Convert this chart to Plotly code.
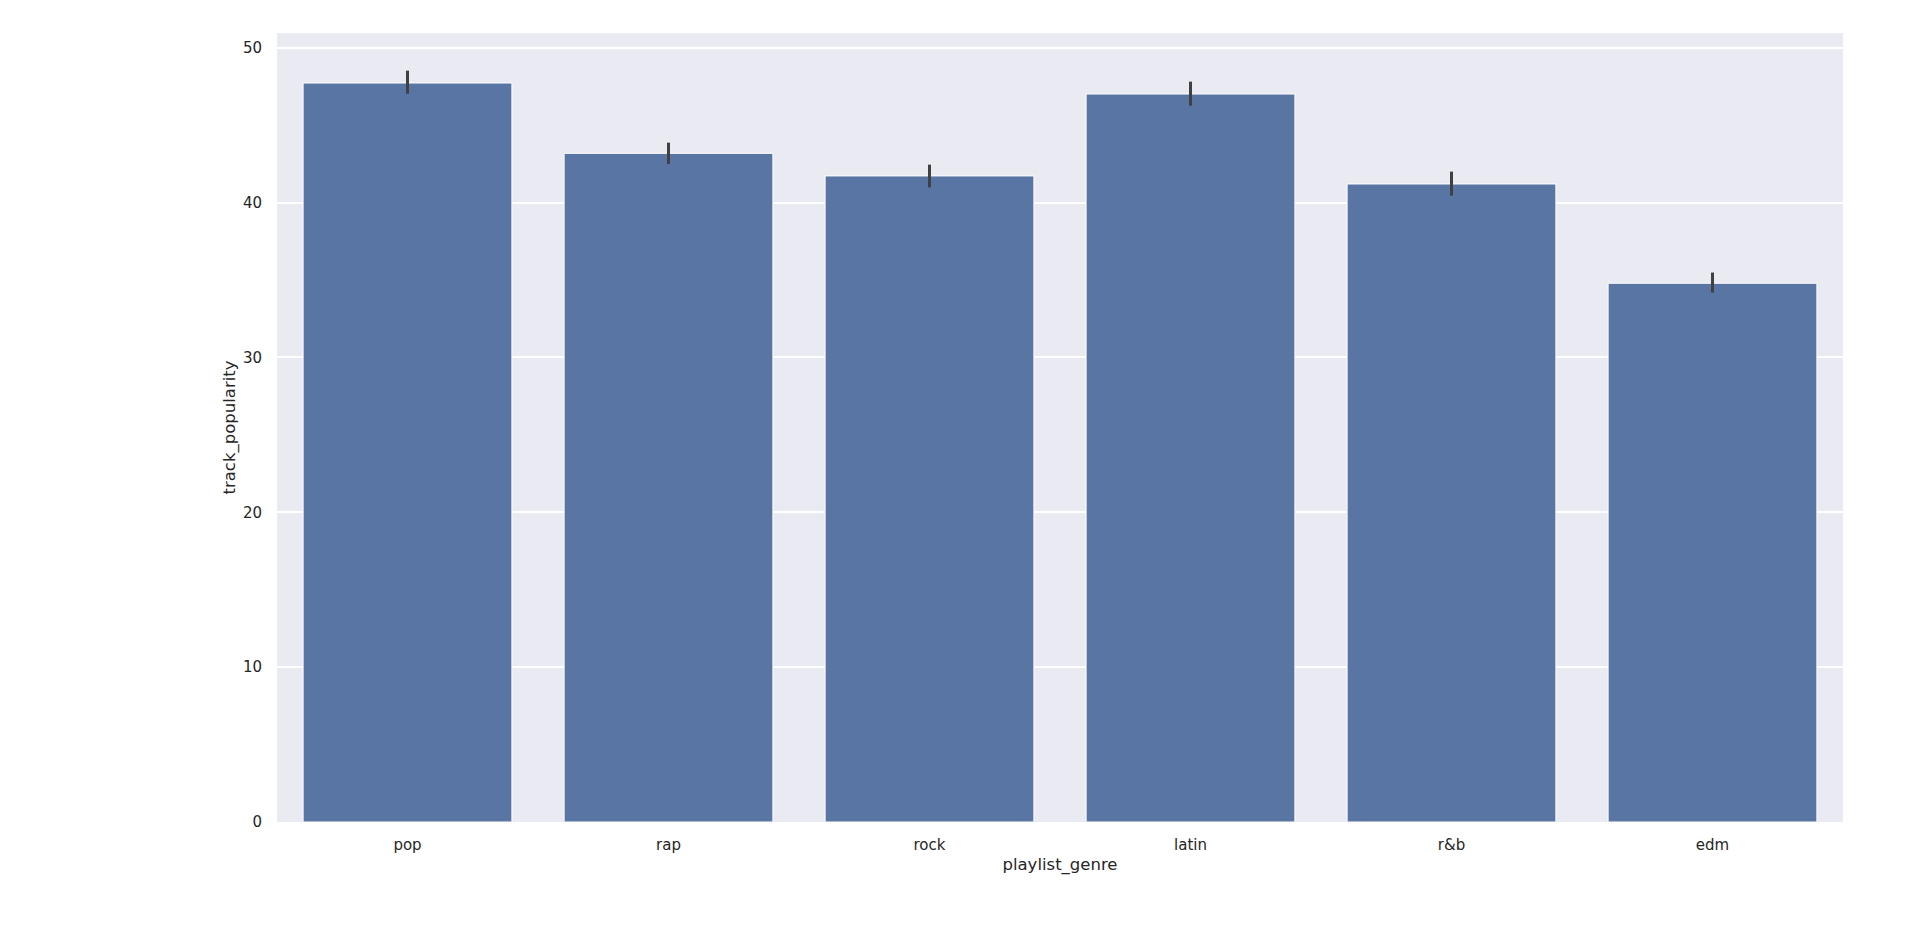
"""seaborn-style bar chart of mean track popularity per playlist genre"""
import plotly.graph_objects as go

# data
genres = ["pop", "rap", "rock", "latin", "r&b", "edm"]
mean_popularity = [47.72, 43.18, 41.72, 47.01, 41.20, 34.79]
ci_low = [47.03, 42.49, 40.97, 46.26, 40.45, 34.19]
ci_high = [48.52, 43.87, 42.45, 47.81, 42.00, 35.48]
y_ticks = [0, 10, 20, 30, 40, 50]

TEXT = "#262626"
FONT = "DejaVu Sans"

err_plus = [h - m for h, m in zip(ci_high, mean_popularity)]
err_minus = [m - l for m, l in zip(mean_popularity, ci_low)]

fig = go.Figure(
    go.Bar(
        x=genres,
        y=mean_popularity,
        marker={"color": "#5875a4", "line": {"color": "white", "width": 1}},
        error_y={
            "type": "data",
            "symmetric": False,
            "array": err_plus,
            "arrayminus": err_minus,
            "color": "#404040",
            "thickness": 3,
            "width": 0,
        },
        showlegend=False,
    )
)

# the page body adds an 8px offset, so margins are shifted accordingly
fig.update_layout(
    width=1907,
    height=952,
    margin={"l": 269, "r": 72, "t": 25, "b": 138},
    paper_bgcolor="white",
    plot_bgcolor="#eaeaf2",
    bargap=0.2,
    font={"family": FONT, "color": TEXT, "size": 15},
)
fig.update_xaxes(
    range=[-0.5, 5.5],
    showgrid=False,
    zeroline=False,
    showline=False,
    ticks="outside",
    ticklen=9,
    tickcolor="rgba(0,0,0,0)",
    tickfont={"size": 15, "color": TEXT},
    title={"text": "playlist_genre", "font": {"size": 16.5, "color": TEXT}, "standoff": 5},
    automargin=False,
)
fig.update_yaxes(
    range=[0, 50.95],
    tickvals=y_ticks,
    showgrid=True,
    gridcolor="white",
    gridwidth=1.5,
    zeroline=False,
    showline=False,
    ticks="outside",
    ticklen=11,
    tickcolor="rgba(0,0,0,0)",
    tickfont={"size": 15, "color": TEXT},
    title={"text": "track_popularity", "font": {"size": 16.5, "color": TEXT}, "standoff": 3},
    automargin=False,
)

fig.write_html("out.html")
